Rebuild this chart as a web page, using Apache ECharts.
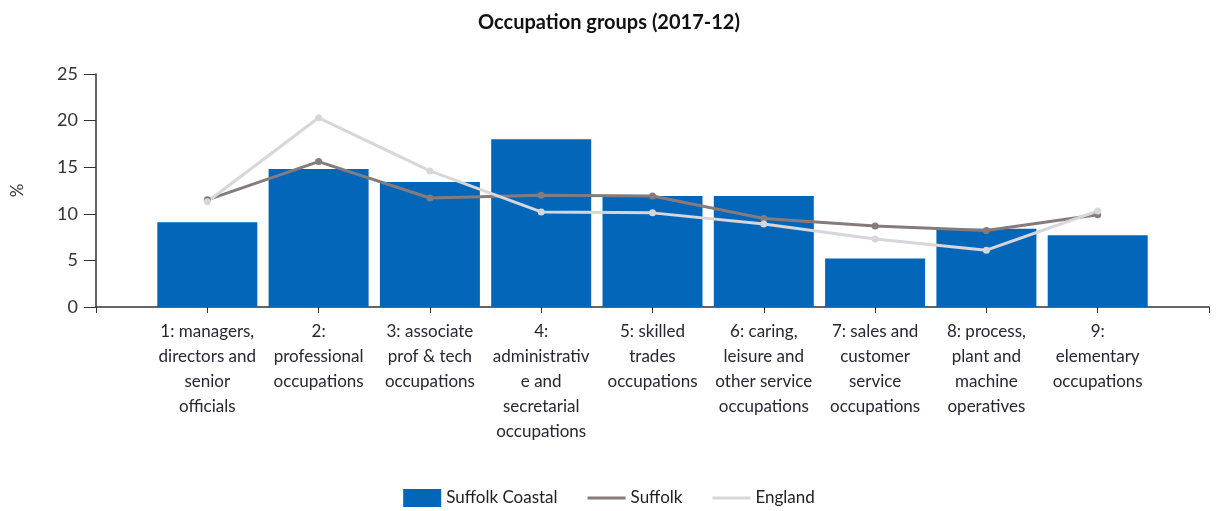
<!DOCTYPE html>
<html>
<head>
<meta charset="utf-8">
<script src="https://cdn.jsdelivr.net/npm/echarts@6/dist/echarts.min.js"></script>
<style>
  html, body { margin: 0; padding: 0; background: #fff; }
  #chart { width: 1218px; height: 511px; }
</style>
</head>
<body>
<div id="chart"></div>
<script>
// blank categories at both ends keep the axis running past the first and last bar
const categories = [
  "",
  "1: managers,\ndirectors and\nsenior\nofficials",
  "2:\nprofessional\noccupations",
  "3: associate\nprof & tech\noccupations",
  "4:\nadministrativ\ne and\nsecretarial\noccupations",
  "5: skilled\ntrades\noccupations",
  "6: caring,\nleisure and\nother service\noccupations",
  "7: sales and\ncustomer\nservice\noccupations",
  "8: process,\nplant and\nmachine\noperatives",
  "9:\nelementary\noccupations",
  ""
];
const suffolkCoastal = [null, 9.1, 14.8, 13.4, 18.0, 11.9, 11.9, 5.2, 8.4, 7.7, null];
const suffolk = [null, 11.5, 15.6, 11.7, 12.0, 11.9, 9.5, 8.7, 8.2, 9.9, null];
const england = [null, 11.3, 20.3, 14.6, 10.2, 10.1, 8.9, 7.3, 6.1, 10.3, null];

const chart = echarts.init(document.getElementById("chart"));
const font = "Lato, 'Open Sans', sans-serif";
// thin bar inside a 38x18 box, used as the legend mark for the lines
const lineIcon = "path://M0,0 M38,18 M0,7.5 L38,7.5 L38,10.5 L0,10.5 Z";

chart.setOption({
  animation: false,
  textStyle: { fontFamily: font },
  title: {
    text: "Occupation groups (2017-12)",
    left: "center",
    top: 8,
    textStyle: { fontSize: 20, fontWeight: "bold", color: "#111", fontFamily: font }
  },
  grid: { left: 96, right: 9, top: 74, bottom: 204, outerBoundsMode: "none", containLabel: false },
  legend: {
    bottom: -1,
    left: "center",
    itemWidth: 38,
    itemHeight: 18,
    itemGap: 30,
    textStyle: { fontSize: 17, color: "#222" },
    data: [
      { name: "Suffolk Coastal", icon: "rect" },
      { name: "Suffolk", icon: lineIcon },
      { name: "England", icon: lineIcon }
    ]
  },
  xAxis: {
    type: "category",
    data: categories,
    boundaryGap: false,
    axisLine: { lineStyle: { color: "#333", width: 1.5 } },
    axisTick: { show: true, length: 6, lineStyle: { color: "#333" } },
    axisLabel: {
      interval: 0,
      fontSize: 17,
      lineHeight: 25,
      color: "#2a2533",
      margin: 12,
      align: "center"
    }
  },
  yAxis: {
    type: "value",
    min: 0,
    max: 25,
    interval: 5,
    name: "%",
    nameLocation: "middle",
    nameGap: 70,
    nameRotate: 90,
    nameTextStyle: { fontSize: 17, color: "#333" },
    splitLine: { show: false },
    axisLine: { show: true, lineStyle: { color: "#333", width: 1.5 } },
    axisTick: { show: true, length: 12, lineStyle: { color: "#333" } },
    axisLabel: { fontSize: 18, color: "#333", margin: 18 }
  },
  series: [
    {
      name: "Suffolk Coastal",
      type: "bar",
      data: suffolkCoastal,
      barWidth: 100,
      itemStyle: { color: "#0466b8" }
    },
    {
      name: "Suffolk",
      type: "line",
      data: suffolk,
      symbol: "circle",
      symbolSize: 7,
      lineStyle: { color: "#867b7c", width: 3 },
      itemStyle: { color: "#867b7c" }
    },
    {
      name: "England",
      type: "line",
      data: england,
      symbol: "circle",
      symbolSize: 7,
      lineStyle: { color: "#d6d6dc", width: 3 },
      itemStyle: { color: "#d6d6dc" }
    }
  ]
});
</script>
</body>
</html>
